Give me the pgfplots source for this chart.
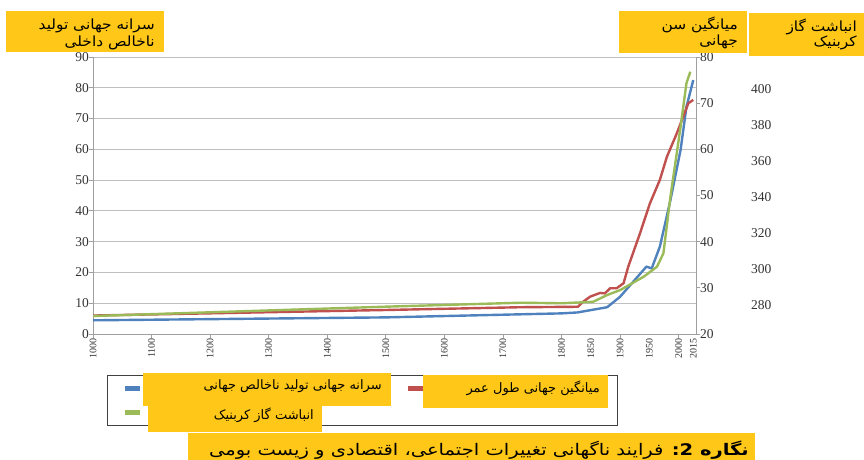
\documentclass[border=0pt]{standalone}
\usepackage{fontspec}
\setmainfont{Liberation Serif}
\newfontfamily\fa[Script=Arabic]{DejaVu Sans}
\usepackage{pgfplots}
\pgfplotsset{compat=1.18}
\TeXXeTstate=1

\definecolor{gdpblue}{HTML}{4F81BD}
\definecolor{lifered}{HTML}{C0504D}
\definecolor{cogreen}{HTML}{9BBB59}
\definecolor{ybox}{RGB}{255,200,25}

% year axis: 2000-2015 is stretched, as in the original chart
\pgfplotsset{
  base/.style={
    scale only axis, width=603pt, height=277pt,
    at={(93pt,-334pt)}, anchor=south west,
    x coord trafo/.code={\pgfmathparse{##1>2000 ? 2000+(##1-2000)*5/3 : ##1}},
    xmin=1000, xmax=2017.8,
    enlargelimits=false,
    tick align=outside, major tick length=4pt,
    /pgf/number format/assume math mode=true,
    every tick label/.append style={inner sep=0pt, text=black!80},
    axis line style={draw=gray!75, line width=1pt},
    major tick style={draw=gray!75, line width=0.8pt},
    yticklabel style={font=\fontsize{13.5}{13.5}\selectfont},
  },
  serie/.style={line width=2.4pt, line join=round},
}

\begin{document}
\begin{tikzpicture}
\path[use as bounding box] (0pt,0pt) rectangle (864pt,-460pt);

% GDP per capita
\begin{axis}[base,
  ymin=0, ymax=90, ytick={0,10,20,30,40,50,60,70,80,90},
  ymajorgrids, grid style={draw=gray!50, line width=0.9pt},
  axis x line*=bottom, axis y line*=left,
  xtick={1000,1100,1200,1300,1400,1500,1600,1700,1800,1900,2000},
  xticklabels={1000,1100,1200,1300,1400,1500,1600,1700,1800,1900,2000},
  extra x ticks={1850,1950,2015},
  extra x tick labels={1850,1950,2015},
  extra x tick style={major tick style={draw=none}},
  xticklabel style={rotate=90, anchor=east, font=\fontsize{10}{10}\selectfont},
  legend columns=2,
  legend cell align=left,
  legend style={at={(0.0232,-0.148)}, anchor=north west,
    draw=black!75, line width=0.8pt, fill=white,
    inner xsep=8.5pt, inner ysep=3pt, column sep=4pt, row sep=4pt,
    nodes={inner sep=0pt, minimum height=20pt}},
  legend image code/.code={
    \path[draw=none] (0pt,0pt) -- (24pt,0pt);
    \draw[#1, line width=4.5pt] (9pt,0pt) -- (24pt,0pt);},
]
\addplot[serie, gdpblue] coordinates {
  (1000,4.45) (1500,5.4) (1730,6.4) (1800,6.7) (1827,7.0) (1878,8.7)
  (1900,12.1) (1945,21.9) (1954,21.3) (1968,28.4) (1986,43.5)
  (2002,59.8) (2008,73.8) (2015,82.5)
};
\addlegendentry[minimum width=249pt]{}
\addlegendimage{serie, lifered}
\addlegendentry[minimum width=180pt]{}
\addlegendimage{serie, cogreen}
\addlegendentry[minimum width=174pt]{}
\end{axis}

% life expectancy
\begin{axis}[base,
  ymin=20, ymax=80, ytick={20,30,40,50,60,70,80},
  axis y line*=right, axis x line=none,
]
\addplot[serie, lifered] coordinates {
  (1000,24.0) (1500,25.2) (1730,25.8) (1828,25.9) (1837,27.0) (1849,28.1)
  (1866,28.9) (1874,28.8) (1883,29.9) (1894,29.9) (1906,31.0) (1914,34.6)
  (1934,41.8) (1951,48.3) (1968,53.4) (1980,58.4) (1997,63.5)
  (2010,70.0) (2015,70.7)
};
\end{axis}

% CO2
\begin{axis}[base,
  ymin=263.9, ymax=418, ytick={280,300,320,340,360,380,400},
  axis y line*=right, axis x line=none,
  y axis line style={draw=none}, major tick length=0pt,
  yticklabel style={xshift=55pt},
]
\addplot[serie, cogreen] coordinates {
  (1000,273.9) (1500,279.1) (1730,281.3) (1800,281.0) (1854,281.8)
  (1878,285.6) (1900,288.3) (1940,295.7) (1963,301.3) (1974,308.8)
  (1986,340.3) (2002,379.2) (2008,403.4) (2012,409.8)
};
\end{axis}

% yellow labels
\fill[ybox] (6pt,-11pt) rectangle (164pt,-52pt);
\fill[ybox] (619pt,-11pt) rectangle (747pt,-53pt);
\fill[ybox] (749pt,-13pt) rectangle (864pt,-56pt);
\begin{scope}[every node/.style={anchor=base east, inner sep=0pt, font=\fa\fontsize{14}{14}\selectfont}]
\node at (155pt,-30pt) {\scalebox{1.1}[1]{\beginR سرانه جهانی تولید\endR}};
\node at (155pt,-46.5pt) {\scalebox{1.1}[1]{\beginR ناخالص داخلی\endR}};
\node at (738pt,-30pt) {\scalebox{1.1}[1]{\beginR میانگین سن\endR}};
\node at (738pt,-45.5pt) {\scalebox{1.1}[1]{\beginR جهانی\endR}};
\node at (857pt,-32pt) {\scalebox{1.1}[1]{\beginR انباشت گاز\endR}};
\node at (857pt,-47pt) {\scalebox{1.1}[1]{\beginR کربنیک\endR}};
\end{scope}

\fill[ybox] (143pt,-373pt) rectangle (391pt,-406pt);
\fill[ybox] (422.5pt,-375pt) rectangle (608pt,-407.5pt);
\fill[ybox] (148pt,-406pt) rectangle (322pt,-432pt);
\begin{scope}[every node/.style={anchor=east, inner sep=0pt, font=\fa\fontsize{13}{13}\selectfont}]
\node at (382pt,-386pt) {\beginR سرانه جهانی تولید ناخالص جهانی\endR};
\node at (600pt,-388.5pt) {\beginR میانگین جهانی طول عمر\endR};
\node at (314pt,-415pt) {\beginR انباشت گاز کربنیک\endR};
\end{scope}

\fill[ybox] (188pt,-433pt) rectangle (755pt,-460pt);
\node[anchor=east, inner sep=0pt, font=\fa\fontsize{16}{16}\selectfont] at (749pt,-450pt)
  {\scalebox{1.22}[1]{\beginR\textbf{نگاره 2:} فرایند ناگهانی تغییرات اجتماعی، اقتصادی و زیست بومی\endR}};
\end{tikzpicture}
\end{document}
